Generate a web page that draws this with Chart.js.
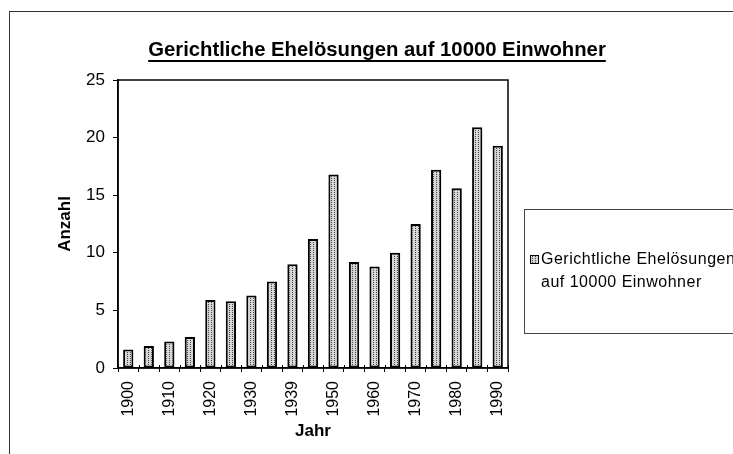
<!DOCTYPE html>
<html lang="de">
<head>
  <meta charset="UTF-8">
  <title>Gerichtliche Ehelösungen auf 10000 Einwohner</title>
  <script src="https://cdn.jsdelivr.net/npm/chart.js"></script>
  <style>
    html, body { margin: 0; padding: 0; background: #fff; overflow: hidden; }
    #frame { position: absolute; left: 9px; top: 11px; width: 800px; height: 500px; border: 1px solid #333; }
    #chart { position: absolute; left: 0; top: 0; }
  </style>
</head>
<body>
  <div id="frame"></div>
  <canvas id="chart" width="733" height="454"></canvas>

  <script>
    // Daten
    const years = ['1900', '1905', '1910', '1913', '1920', '1925', '1930', '1935', '1939', '1946',
                   '1950', '1955', '1960', '1965', '1970', '1975', '1980', '1985', '1990'];
    const values = [1.6, 1.9, 2.3, 2.7, 5.9, 5.8, 6.3, 7.5, 9.0, 11.2,
                    16.8, 9.2, 8.8, 10.0, 12.5, 17.2, 15.6, 20.9, 19.3];
    const yTicks = [0, 5, 10, 15, 20, 25];
    const chartTitle = 'Gerichtliche Ehelösungen auf 10000 Einwohner';
    const legendLines = ['Gerichtliche Ehelösungen', 'auf 10000 Einwohner'];

    const family = '"Liberation Sans", Arial, sans-serif';

    // gepunktetes Füllmuster wie in Excel
    function dotPattern() {
      const c = document.createElement('canvas');
      c.width = 3; c.height = 2;
      const g = c.getContext('2d');
      g.fillStyle = '#d6d6d6';
      g.fillRect(0, 0, 3, 2);
      g.fillStyle = '#444';
      g.fillRect(1, 0, 1, 1);
      return document.getElementById('chart').getContext('2d').createPattern(c, 'repeat');
    }
    const pattern = dotPattern();

    // Rahmen, Titel, Legende
    const extras = {
      id: 'extras',
      afterDraw(chart) {
        const ctx = chart.ctx;
        const a = chart.chartArea;
        const xs = chart.scales.x;
        ctx.save();

        // Rahmen um Zeichenfläche
        ctx.strokeStyle = '#000';
        ctx.lineWidth = 1.5;
        ctx.strokeRect(a.left, a.top, a.right - a.left, a.bottom - a.top);

        // kleine Striche nach innen an der x-Achse
        const step = xs.getPixelForValue(1) - xs.getPixelForValue(0);
        ctx.lineWidth = 1;
        for (let i = 0; i <= years.length; i++) {
          const x = Math.round(xs.getPixelForValue(i) - step / 2) + 0.5;
          ctx.beginPath();
          ctx.moveTo(x, a.bottom);
          ctx.lineTo(x, a.bottom - 3);
          ctx.stroke();
        }

        // Titel mit Unterstreichung
        ctx.font = 'bold 20.3px ' + family;
        ctx.fillStyle = '#000';
        ctx.textAlign = 'center';
        ctx.textBaseline = 'alphabetic';
        const tx = 377, ty = 56;
        ctx.fillText(chartTitle, tx, ty);
        const w = ctx.measureText(chartTitle).width;
        ctx.fillRect(tx - w / 2, ty + 4, w, 2);

        // Legende
        ctx.strokeStyle = '#444';
        ctx.lineWidth = 1;
        ctx.strokeRect(524.5, 209.5, 300, 124);
        ctx.fillStyle = pattern;
        ctx.fillRect(530, 255, 9, 9);
        ctx.strokeStyle = '#000';
        ctx.strokeRect(530.5, 255.5, 8, 8);
        ctx.fillStyle = '#000';
        ctx.font = '16px ' + family;
        ctx.letterSpacing = '0.5px';
        ctx.textAlign = 'left';
        ctx.textBaseline = 'middle';
        ctx.fillText(legendLines[0], 541, 260);
        ctx.fillText(legendLines[1], 541, 283);

        ctx.restore();
      }
    };

    new Chart(document.getElementById('chart'), {
      type: 'bar',
      data: {
        labels: years,
        datasets: [{
          label: legendLines.join(' '),
          data: values,
          backgroundColor: pattern,
          borderColor: '#000',
          borderWidth: 2,
          borderSkipped: false,
          barPercentage: 0.5,
          categoryPercentage: 1
        }]
      },
      options: {
        responsive: false,
        animation: false,
        devicePixelRatio: 1,
        layout: { padding: { top: 80, right: 225, bottom: 0, left: 0 } },
        plugins: {
          legend: { display: false },
          title: { display: false },
          tooltip: { enabled: false }
        },
        scales: {
          x: {
            afterFit: s => { s.height = 86; },
            grid: { offset: true, drawOnChartArea: false, tickLength: 4, color: '#000', lineWidth: 1 },
            border: { color: '#000', width: 1.5 },
            ticks: {
              autoSkip: false,
              maxRotation: 90,
              minRotation: 90,
              padding: 9,
              color: '#000',
              font: { family: family, size: 16 },
              callback: (v, i) => (i % 2 === 0 ? years[i] : '')
            },
            title: {
              display: true,
              text: 'Jahr',
              color: '#000',
              font: { family: family, size: 17, weight: 'bold' },
              padding: { top: 0, bottom: 12 }
            }
          },
          y: {
            min: 0,
            max: 25,
            afterFit: s => { s.width = 118; },
            afterBuildTicks: s => { s.ticks = yTicks.map(v => ({ value: v })); },
            grid: { drawOnChartArea: false, tickLength: 5, color: '#000', lineWidth: 1 },
            border: { color: '#000', width: 1.5 },
            ticks: {
              padding: 8,
              color: '#000',
              font: { family: family, size: 17 }
            },
            title: {
              display: true,
              text: 'Anzahl',
              color: '#000',
              font: { family: family, size: 17, weight: 'bold' },
              padding: { top: 55, bottom: 0 }
            }
          }
        }
      },
      plugins: [extras]
    });
  </script>
</body>
</html>
